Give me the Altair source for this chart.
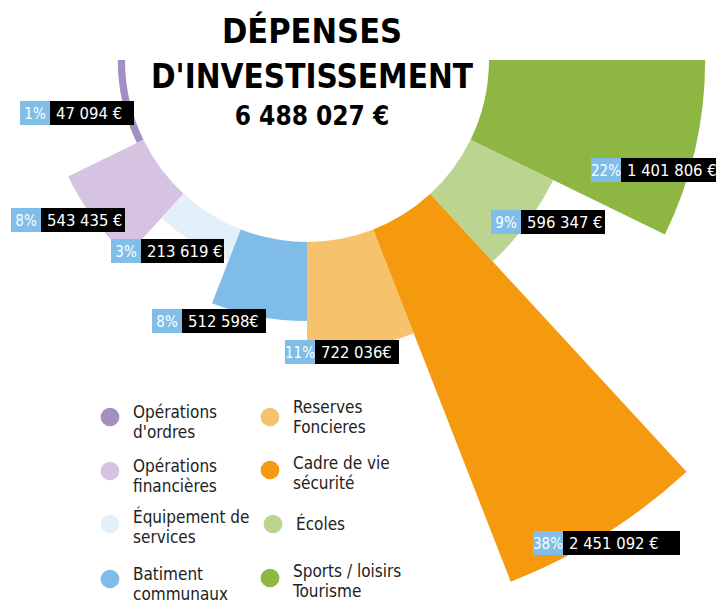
import math
import altair as alt
import pandas as pd

# ---------------- data ----------------
categories = [
    "Opérations\nd'ordres",
    "Opérations\nfinancières",
    "Équipement de\nservices",
    "Batiment\ncommunaux",
    "Reserves\nFoncieres",
    "Cadre de vie\nsécurité",
    "Écoles",
    "Sports / loisirs\nTourisme",
]
values = [47094, 543435, 213619, 512598, 722036, 2451092, 596347, 1401806]
value_labels = ["47 094 €", "543 435 €", "213 619 €", "512 598€", "722 036€",
                "2 451 092 €", "596 347 €", "1 401 806 €"]
colors = ["#a48fc4", "#d5c3e1", "#e2f1f9", "#80bce8",
          "#f6c26b", "#f5990f", "#bbd590", "#8db742"]
total_label = "6 488 027 €"
title_lines = ["DÉPENSES", "D'INVESTISSEMENT"]

# layout of annotations (page layout, not data)
lbl_x = [20, 11, 111, 152, 285, 533, 491, 591]
lbl_y = [101, 208, 239, 309, 340, 531, 210, 158]
black_w = [84, 84, 83, 84, 84, 117, 84, 110]
leg_cx = [110, 110, 110, 110, 270, 270, 273, 270]
leg_cy = [417, 471, 524, 579, 417, 470, 524, 578]
leg_ty = [418, 472, 523, 580, 413, 469, 530, 577]

OFF = 8  # page margin
FONT = "DejaVu Sans Condensed, Roboto, sans-serif"

total = sum(values)
pct_labels = [f"{round(v / total * 100)}%" for v in values]

df = pd.DataFrame({
    "cat": categories,
    "value": values,
    "k": list(range(len(values))),
    "k2": [i + 1 for i in range(len(values))],
    "vlabel": value_labels,
    "plabel": pct_labels,
    "bx": [x - OFF for x in lbl_x],
    "bmid": [x - OFF + 30 for x in lbl_x],
    "bend": [x - OFF + 30 + w for x, w in zip(lbl_x, black_w)],
    "by": [y - OFF for y in lbl_y],
    "by2": [y - OFF + 24 for y in lbl_y],
    "bcy": [y - OFF + 12 for y in lbl_y],
    "pcx": [x - OFF + 15 for x in lbl_x],
    "vtx": [x - OFF + 36 for x in lbl_x],
    "lcx": [x - OFF for x in leg_cx],
    "lcy": [y - OFF for y in leg_cy],
    "ltx": [x - OFF + 23 for x in leg_cx],
    "lty": [y - OFF for y in leg_ty],
})

color_scale = alt.Scale(domain=categories, range=colors)
base = alt.Chart(df)

deg = math.pi / 180
arcs = base.mark_arc(radius2=182, stroke=None).encode(
    x=alt.value(307 - OFF),
    y=alt.value(60 - OFF),
    theta=alt.Theta("k:Q", scale=alt.Scale(domain=[0, 1, 7, 8],
                                           range=[270 * deg, 244 * deg, 116 * deg, 90 * deg])),
    theta2="k2:Q",
    radius=alt.Radius("value:Q", scale=alt.Scale(type="linear", domain=[0, max(values)], range=[182, 560])),
    color=alt.Color("cat:N", scale=color_scale, legend=None),
)

blue_box = base.mark_rect(color="#80bde7").encode(
    x=alt.X("bx:Q", scale=None), x2="bmid:Q",
    y=alt.Y("by:Q", scale=None), y2="by2:Q",
)
black_box = base.mark_rect(color="#000000").encode(
    x=alt.X("bmid:Q", scale=None), x2="bend:Q",
    y=alt.Y("by:Q", scale=None), y2="by2:Q",
)
pct_text = base.mark_text(font=FONT, fontSize=15, color="white", align="center", baseline="middle", dy=1).encode(
    x=alt.X("pcx:Q", scale=None), y=alt.Y("bcy:Q", scale=None), text="plabel:N",
)
val_text = base.mark_text(font=FONT, fontSize=16.5, color="white", align="left", baseline="middle", dy=1).encode(
    x=alt.X("vtx:Q", scale=None), y=alt.Y("bcy:Q", scale=None), text="vlabel:N",
)

leg_dots = base.mark_circle(size=350, opacity=1).encode(
    x=alt.X("lcx:Q", scale=None), y=alt.Y("lcy:Q", scale=None),
    color=alt.Color("cat:N", scale=color_scale, legend=None),
)
leg_text = base.mark_text(font=FONT, fontSize=17, color="#222222", align="left",
                          baseline="alphabetic", lineBreak="\n", lineHeight=20).encode(
    x=alt.X("ltx:Q", scale=None), y=alt.Y("lty:Q", scale=None), text="cat:N",
)

tdf = pd.DataFrame({
    "t": title_lines + [total_label],
    "tx": [312 - OFF] * 3,
    "ty": [43 - OFF, 88 - OFF, 125 - OFF],
    "fs": [34, 33, 26],
})
title = alt.Chart(tdf).mark_text(font=FONT, fontWeight="bold", color="#000000",
                                 align="center", baseline="alphabetic").encode(
    x=alt.X("tx:Q", scale=None), y=alt.Y("ty:Q", scale=None), text="t:N",
    size=alt.Size("fs:Q", scale=None, legend=None),
)

chart = alt.layer(arcs, blue_box, black_box, pct_text, val_text, leg_dots, leg_text, title).properties(
    width=708, height=596, autosize="none", padding=0,
).configure_view(stroke=None)

chart.save("out.html", embed_options={"renderer": "svg", "actions": False})
